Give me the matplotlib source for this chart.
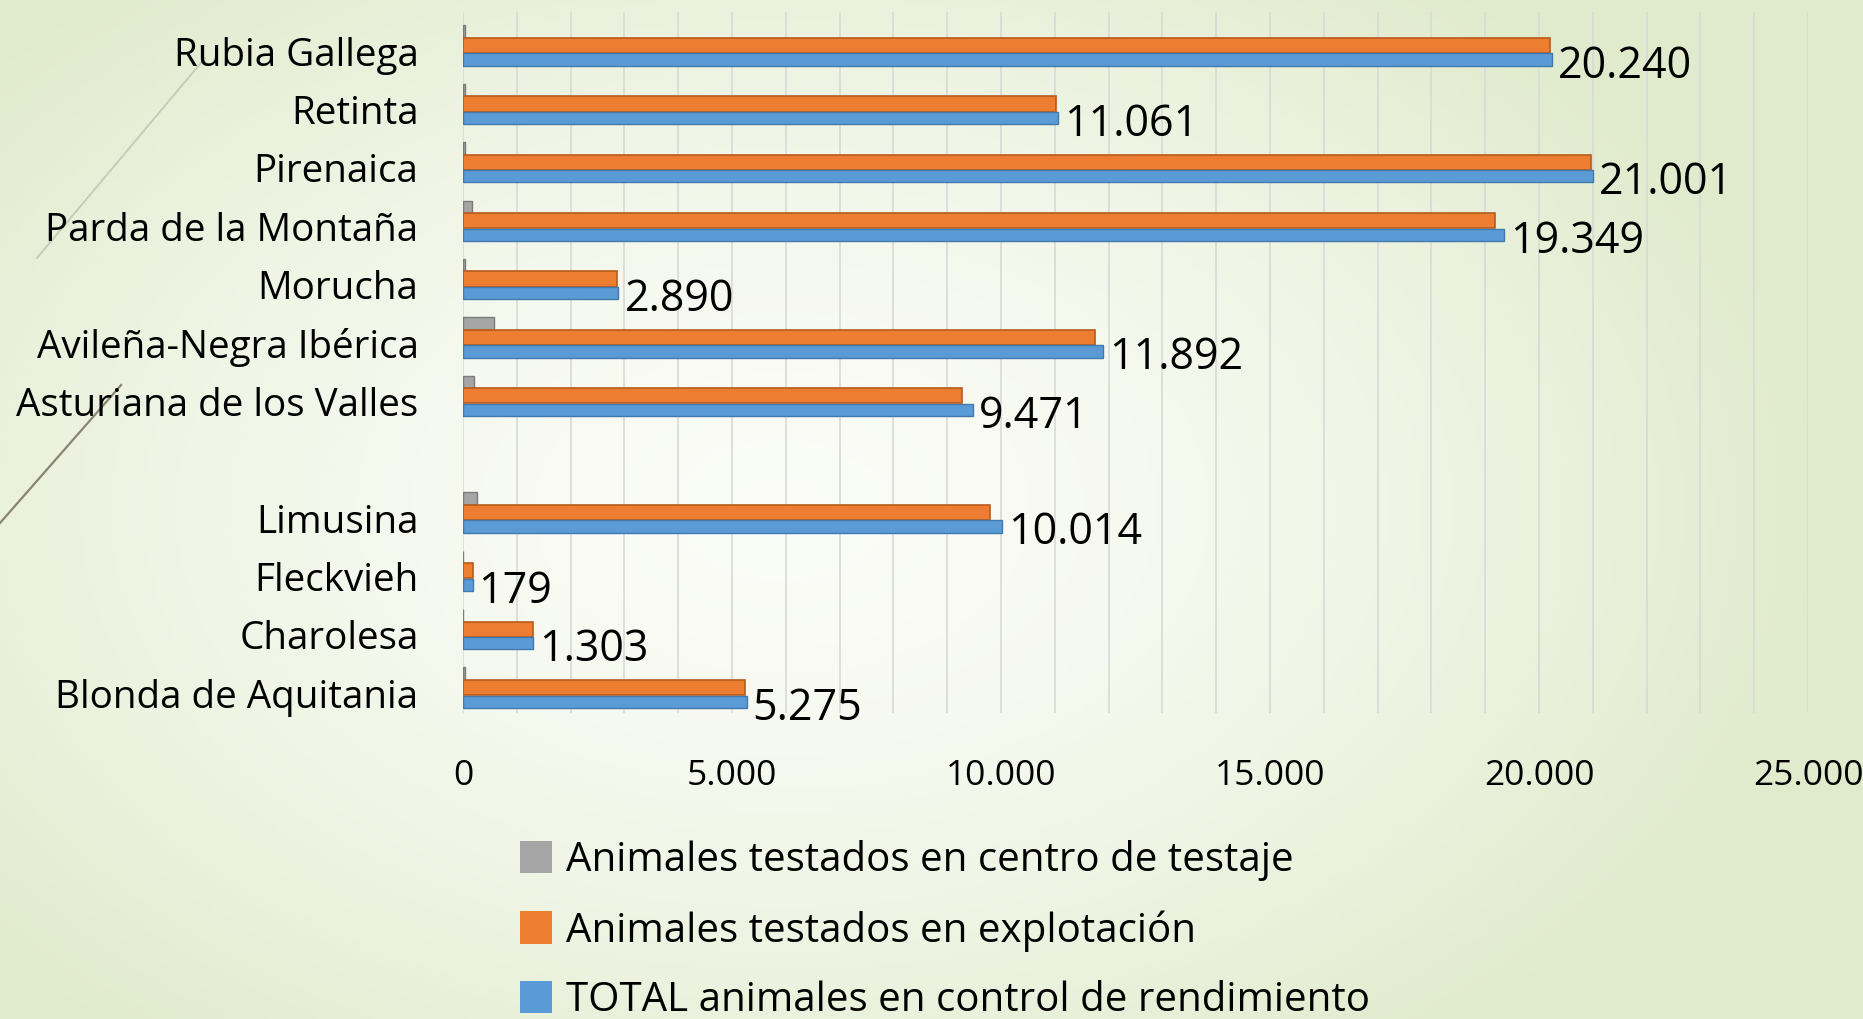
import matplotlib
matplotlib.use('Agg')
import matplotlib.pyplot as plt
from matplotlib.patches import Patch
from matplotlib.ticker import MultipleLocator, FuncFormatter
import numpy as np

plt.rcParams['font.family'] = ['Open Sans', 'DejaVu Sans']

# razas autóctonas (arriba) e integradas (abajo), de arriba a abajo
breeds_top = ['Rubia Gallega', 'Retinta', 'Pirenaica', 'Parda de la Montaña',
              'Morucha', 'Avileña-Negra Ibérica', 'Asturiana de los Valles']
breeds_bottom = ['Limusina', 'Fleckvieh', 'Charolesa', 'Blonda de Aquitania']

# Animales testados en centro de testaje (estimados)
centro_top = [40, 40, 40, 170, 30, 580, 200]
centro_bottom = [260, 0, 0, 30]

# Animales testados en explotación (estimados)
explot_top = [20200, 11020, 20960, 19190, 2860, 11740, 9270]
explot_bottom = [9790, 179, 1303, 5245]

# TOTAL animales en control de rendimiento
total_top = [20240, 11061, 21001, 19349, 2890, 11892, 9471]
total_bottom = [10014, 179, 1303, 5275]

series_labels = ['Animales testados en centro de testaje',
                 'Animales testados en explotación',
                 'TOTAL animales en control de rendimiento']
colors = {'centro': '#a5a5a5', 'explot': '#ed7d31', 'total': '#5b9bd5'}
edges = {'centro': '#7b7b7b', 'explot': '#b85b1c', 'total': '#3f79ad'}

breeds = breeds_top + breeds_bottom
centro = np.array(centro_top + centro_bottom)
explot = np.array(explot_top + explot_bottom)
total = np.array(total_top + total_bottom)
# one empty slot between the two groups
ypos = np.array(list(range(len(breeds_top))) +
                [len(breeds_top) + 1 + i for i in range(len(breeds_bottom))])

W, H = 1863, 1019
fig = plt.figure(figsize=(W / 100, H / 100), dpi=100)

# background gradient (slide)
bg = fig.add_axes([0, 0, 1, 1], zorder=-10)
gx, gy = np.meshgrid(np.linspace(0, 1, 400), np.linspace(0, 1, 220))
d = np.sqrt(((gx - 0.42) / 0.75) ** 2 + ((gy - 0.5) / 0.9) ** 2)
d = np.clip(d / 0.75, 0, 1) ** 1.6
c_in = np.array([0.985, 0.99, 0.97])
c_out = np.array([0.88, 0.92, 0.80])
img = c_in[None, None, :] * (1 - d[..., None]) + c_out[None, None, :] * d[..., None]
bg.imshow(img, extent=[0, 1, 0, 1], aspect='auto', origin='lower')
bg.plot([0.0, 0.065], [1 - 523 / H, 1 - 385 / H], color='#8a8470', lw=1.6)
bg.plot([37 / W, 205 / W], [1 - 258 / H, 1 - 58 / H], color='#c9cbb8', lw=1.4)
bg.set_xlim(0, 1)
bg.set_ylim(0, 1)
bg.axis('off')

ax = fig.add_axes([463 / W, 1 - 713 / H, (1808 - 463) / W, (713 - 12) / H])
ax.patch.set_alpha(0)

ax.barh(ypos - 0.33, centro, height=0.22, color=colors['centro'],
        edgecolor=edges['centro'], linewidth=1, zorder=3)
ax.barh(ypos - 0.095, explot, height=0.26, color=colors['explot'],
        edgecolor=edges['explot'], linewidth=1.2, zorder=3)
ax.barh(ypos + 0.146, total, height=0.21, color=colors['total'],
        edgecolor=edges['total'], linewidth=1, zorder=3)

for y, v in zip(ypos, total):
    ax.text(v + 110, y + 0.26, f'{v:,}'.replace(',', '.'), ha='left', va='center',
            fontsize=31, color='black', zorder=5)

ax.set_xlim(0, 25000)
ax.set_ylim(len(breeds) + 1 - 1 + 0.34, -0.67)
ax.xaxis.set_major_locator(MultipleLocator(5000))
ax.xaxis.set_minor_locator(MultipleLocator(1000))
ax.xaxis.set_major_formatter(FuncFormatter(lambda v, p: f'{int(v):,}'.replace(',', '.')))
ax.grid(True, which='both', axis='x', color='#d9d9d9', linewidth=1.2, zorder=0)
ax.set_yticks(ypos)
ax.set_yticklabels(breeds)
ax.tick_params(axis='x', which='both', length=0, pad=33, labelsize=25.5)
ax.tick_params(axis='y', length=0, pad=32, labelsize=27.8)
for s in ax.spines.values():
    s.set_visible(False)

handles = [Patch(facecolor=colors[k]) for k in ['centro', 'explot', 'total']]
fig.legend(handles, series_labels, loc='upper left', bbox_to_anchor=(520 / W, 1 - 840 / H),
           frameon=False, fontsize=29, handlelength=0.8, handleheight=0.85,
           handletextpad=0.35, labelspacing=0.72, borderpad=0, borderaxespad=0)

fig.savefig('out.png', dpi=100)
